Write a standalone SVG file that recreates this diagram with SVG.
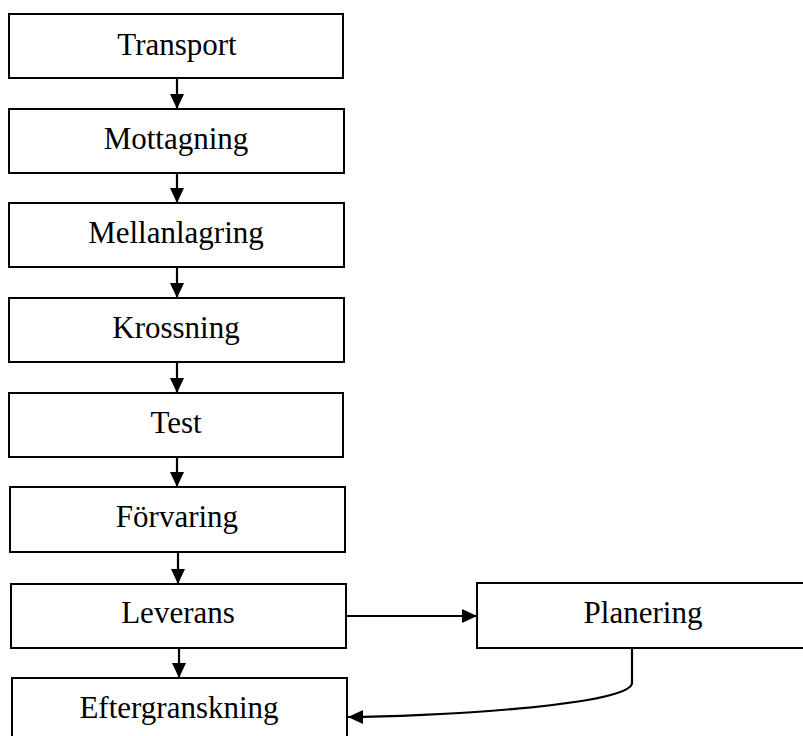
<svg xmlns="http://www.w3.org/2000/svg" width="803" height="736" viewBox="0 0 803 736">
<defs>
<marker id="ah" markerWidth="15" markerHeight="14" refX="15" refY="7" orient="auto" markerUnits="userSpaceOnUse">
<path d="M0,0 L15,7 L0,14 Z" fill="#000"/>
</marker>
<style>
.box{fill:#fff;stroke:#000;stroke-width:2}
.lbl{font-family:"Liberation Serif","Times New Roman",serif;font-size:31px;fill:#000;text-anchor:middle}
.edge{fill:none;stroke:#000;stroke-width:2.2;marker-end:url(#ah)}
</style>
</defs>
<rect width="803" height="736" fill="#fff"/>
<g id="transport"><rect class="box" x="9" y="14" width="334" height="64"/><text class="lbl" x="177" y="55">Transport</text></g>
<g id="mottagning"><rect class="box" x="9" y="109" width="335" height="64"/><text class="lbl" x="176" y="149">Mottagning</text></g>
<g id="mellanlagring"><rect class="box" x="9" y="203" width="335" height="64"/><text class="lbl" x="176" y="243">Mellanlagring</text></g>
<g id="krossning"><rect class="box" x="9" y="298" width="335" height="64"/><text class="lbl" x="176" y="338">Krossning</text></g>
<g id="test"><rect class="box" x="9" y="393" width="334" height="64"/><text class="lbl" x="176" y="433">Test</text></g>
<g id="forvaring"><rect class="box" x="10" y="487" width="335" height="65"/><text class="lbl" x="177" y="527">Förvaring</text></g>
<g id="leverans"><rect class="box" x="11" y="584" width="335" height="64"/><text class="lbl" x="178" y="623">Leverans</text></g>
<g id="eftergranskning"><rect class="box" x="12" y="678" width="335" height="64"/><text class="lbl" x="179" y="718">Eftergranskning</text></g>
<g id="planering"><rect class="box" x="477" y="583" width="332" height="65"/><text class="lbl" x="643" y="623">Planering</text></g>
<g id="connectors">
<path class="edge" d="M177,78 V109"/>
<path class="edge" d="M177,173 V203"/>
<path class="edge" d="M177,267 V298"/>
<path class="edge" d="M177,362 V393"/>
<path class="edge" d="M177,457 V487"/>
<path class="edge" d="M178,552 V584"/>
<path class="edge" d="M179,648 V678"/>
<path class="edge" d="M346,616 H477"/>
<path class="edge" d="M632,648 V683 C632,706 420,717 348,717"/>
</g>
</svg>
